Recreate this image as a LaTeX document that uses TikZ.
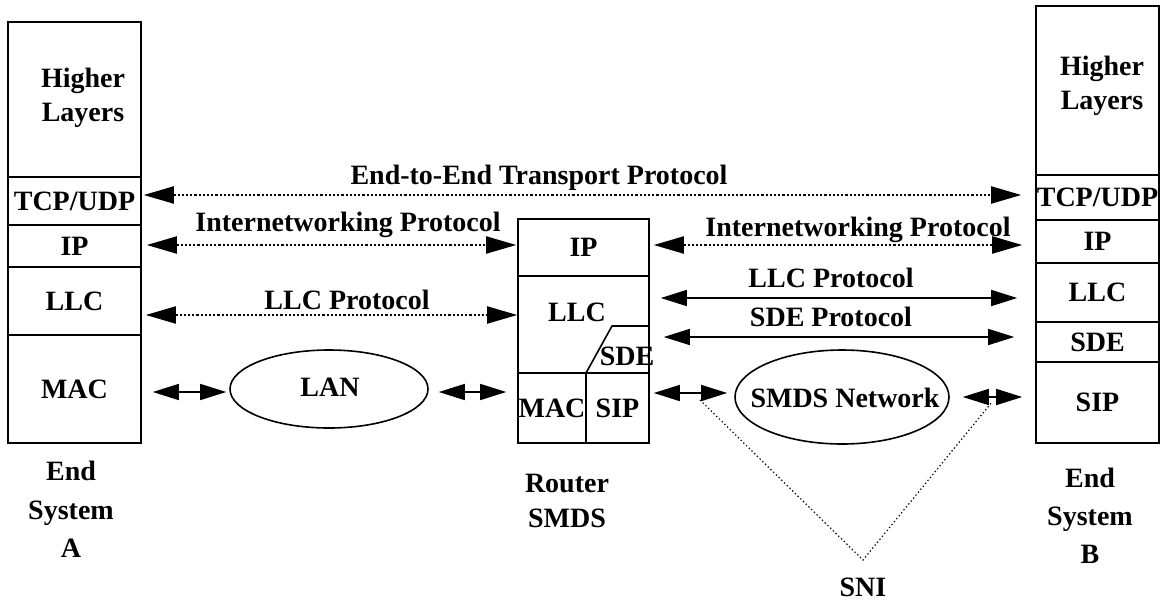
\documentclass[tikz,border=0pt]{standalone}
\usepackage{fontspec}
\setmainfont{Liberation Serif}
\usetikzlibrary{arrows.meta,shapes.geometric}
\begin{document}
\begin{tikzpicture}[x=1pt,y=-1pt,
  font=\fontsize{28}{34}\selectfont\bfseries,
  layer/.style={draw,line width=1.6pt,inner sep=0pt,text height=18pt,text depth=0pt},
  lbl/.style={inner sep=0pt,text height=18pt,text depth=0pt},
  mlbl/.style={inner sep=0pt,align=center,anchor=north},
  cloud/.style={draw,ellipse,line width=1.6pt,inner sep=0pt},
  darr/.style={{Triangle[length=30pt,width=17pt]}-{Triangle[length=30pt,width=17pt]},line width=2pt},
  sarr/.style={{Triangle[length=26pt,width=16pt]}-{Triangle[length=26pt,width=16pt]},line width=1.6pt},
  dotarr/.style={darr,dash pattern=on 2.2pt off 2pt},
  snil/.style={line width=1.2pt,dash pattern=on 1.3pt off 2.5pt}
]
\useasboundingbox (0,0) rectangle (1162,603);
\fill[white] (0,0) rectangle (1162,603);

% End System A
\node[layer,minimum width=133pt,minimum height=155pt] (hlA) at (74.5,99.5) {};
\node[mlbl] (hlAt) at (83,68) {Higher\\Layers};
\node[layer,minimum width=133pt,minimum height=48pt] (tcpA) at (74.5,201) {TCP/UDP};
\node[layer,minimum width=133pt,minimum height=42pt] (ipA) at (74.5,246) {IP};
\node[layer,minimum width=133pt,minimum height=68pt] (llcA) at (74.5,301) {LLC};
\node[layer,minimum width=133pt,minimum height=108pt] (macA) at (74.5,389) {MAC};
\node[mlbl,font=\fontsize{28}{38.5}\selectfont\bfseries] (esA) at (71,461) {End\\System\\A};

% End System B
\node[layer,minimum width=123pt,minimum height=169pt] (hlB) at (1097.5,90.5) {};
\node[mlbl] (hlBt) at (1102,56) {Higher\\Layers};
\node[layer,minimum width=123pt,minimum height=45pt] (tcpB) at (1097.5,197.5) {TCP/UDP};
\node[layer,minimum width=123pt,minimum height=43pt] (ipB) at (1097.5,241.5) {IP};
\node[layer,minimum width=123pt,minimum height=59pt] (llcB) at (1097.5,292.5) {LLC};
\node[layer,minimum width=123pt,minimum height=40pt] (sdeB) at (1097.5,342) {SDE};
\node[layer,minimum width=123pt,minimum height=81pt] (sipB) at (1097.5,402.5) {SIP};
\node[mlbl,font=\fontsize{28}{38}\selectfont\bfseries] (esB) at (1090,468) {End\\System\\B};

% Router
\node[layer,minimum width=131pt,minimum height=57pt] (ipR) at (583.5,247.5) {IP};
\node[layer,minimum width=131pt,minimum height=97pt] (llcR) at (583.5,324.5) {};
\node[lbl] (llcRt) at (577,312) {LLC};
\draw[line width=1.6pt] (586,373) -- (612,326) -- (llcR.east |- 612,326);
\node[lbl] (sdeRt) at (627,356) {SDE};
\node[layer,minimum width=68pt,minimum height=70pt] (macR) at (552,408) {MAC};
\node[layer,minimum width=63pt,minimum height=70pt] (sipR) at (617.5,408) {SIP};
\node[mlbl,font=\fontsize{28}{35}\selectfont\bfseries] (rt) at (567,474) {Router\\SMDS};

% Networks
\node[cloud,minimum width=198pt,minimum height=78pt] (lan) at (329,389) {};
\node[lbl] (lant) at (330,387) {LAN};
\node[cloud,minimum width=214pt,minimum height=94pt] (smds) at (842,397) {};
\node[lbl] (smdst) at (845,398) {SMDS Network};

% Protocol labels
\node[lbl] (e2e) at (539,175) {End-to-End Transport Protocol};
\node[lbl] (inpL) at (348,222) {Internetworking Protocol};
\node[lbl] (inpR) at (858,227) {Internetworking Protocol};
\node[lbl] (llcpL) at (347,300) {LLC Protocol};
\node[lbl] (llcpR) at (831,278) {LLC Protocol};
\node[lbl] (sdep) at (831,317) {SDE Protocol};
\node[lbl] (sni) at (863,587) {SNI};

% Connectors
\draw[dotarr] ([xshift=2pt,yshift=6pt]tcpA.east) -- ([xshift=-14pt,yshift=2.5pt]tcpB.west);
\draw[dotarr] ([xshift=5pt,yshift=1pt]ipA.east) -- ([xshift=-1pt,yshift=2.5pt]ipR.west);
\draw[dotarr] ([xshift=4pt,yshift=2.5pt]ipR.east) -- ([xshift=-13pt,yshift=-3.5pt]ipB.west);
\draw[dotarr] ([xshift=4pt,yshift=-14pt]llcA.east) -- ([yshift=9.5pt]llcR.west);
\draw[sarr] ([xshift=11pt,yshift=26.5pt]llcR.east) -- ([xshift=-18pt,yshift=-5.5pt]llcB.west);
\draw[sarr] ([xshift=14pt,yshift=-12.5pt]llcR.east) -- ([xshift=-21pt,yshift=5pt]sdeB.west);
\draw[sarr] ([xshift=11pt,yshift=-3pt]macA.east) -- ([xshift=-3pt,yshift=-3pt]lan.west);
\draw[sarr] ([xshift=10pt,yshift=-3pt]lan.east) -- ([xshift=-11pt,yshift=16pt]macR.west);
\draw[sarr] ([xshift=4pt,yshift=15pt]sipR.east) -- ([xshift=-7pt,yshift=4pt]smds.west);
\draw[sarr] ([xshift=13pt]smds.east) -- ([xshift=-13pt,yshift=5.5pt]sipB.west);

% SNI
\coordinate (sniL) at (700,400);
\coordinate (sniR) at (992,402);
\coordinate (apex) at (863,560);
\draw[snil] (sniL) -- (apex) -- (sniR);
\end{tikzpicture}
\end{document}
